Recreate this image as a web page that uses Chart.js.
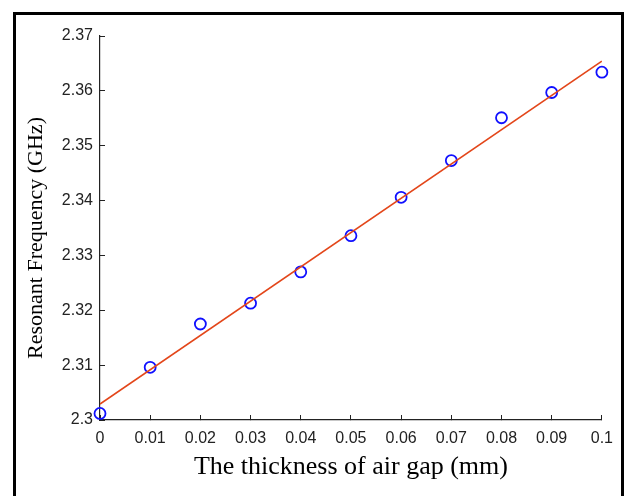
<!DOCTYPE html>
<html>
<head>
<meta charset="utf-8">
<script src="https://cdn.jsdelivr.net/npm/chart.js@4/dist/chart.umd.min.js"></script>
<style>
  html, body { margin: 0; padding: 0; background: #fff; }
  #wrap { position: relative; width: 627px; height: 496px; overflow: hidden; }
  #frame {
    position: absolute; left: 13px; top: 12px; width: 611px; height: 600px;
    box-sizing: border-box; border: 3px solid #000; border-bottom: none;
  }
  #c { position: absolute; left: 0; top: 0; }
</style>
</head>
<body>
<div id="wrap">
  <div id="frame"></div>
  <canvas id="c" width="627" height="496"></canvas>
</div>
<script>
// Air-gap thickness (mm) and measured resonant frequency (GHz)
const thickness = [0, 0.01, 0.02, 0.03, 0.04, 0.05, 0.06, 0.07, 0.08, 0.09, 0.1];
const measuredFreq = [2.3012, 2.3096, 2.3175, 2.3213, 2.3270, 2.3336, 2.3406, 2.3473, 2.3551, 2.3597, 2.3634];

// Linear fit through the measurements, given by its end points
const fitThickness = [0, 0.1];
const fitFreq = [2.3029, 2.3654];

// Axis ticks
const xTickValues = [0, 0.01, 0.02, 0.03, 0.04, 0.05, 0.06, 0.07, 0.08, 0.09, 0.1];
const xTickLabels = ['0', '0.01', '0.02', '0.03', '0.04', '0.05', '0.06', '0.07', '0.08', '0.09', '0.1'];
const yTickValues = [2.3, 2.31, 2.32, 2.33, 2.34, 2.35, 2.36, 2.37];
const yTickLabels = ['2.3', '2.31', '2.32', '2.33', '2.34', '2.35', '2.36', '2.37'];

const yAxisTitle = 'Resonant Frequency (GHz)';
const xAxisTitle = 'The thickness of air gap (mm)';

const toPoints = (xs, ys) => xs.map((x, i) => ({ x: x, y: ys[i] }));

const axisColor = '#222';
const tickFont = { family: '"Liberation Sans", Arial, sans-serif', size: 16 };
const serif = '"Liberation Serif", "Times New Roman", serif';

// Vertical axis title, set a little below the middle of the axis
const yTitlePlugin = {
  id: 'yTitle',
  afterDraw(chart) {
    const ctx = chart.ctx;
    ctx.save();
    ctx.translate(36, 238);
    ctx.rotate(-Math.PI / 2);
    ctx.font = '22px ' + serif;
    ctx.fillStyle = '#000';
    ctx.textAlign = 'center';
    ctx.textBaseline = 'middle';
    ctx.fillText(yAxisTitle, 0, 0);
    ctx.restore();
  }
};

new Chart(document.getElementById('c'), {
  type: 'scatter',
  data: {
    datasets: [
      {
        label: 'Fit',
        data: toPoints(fitThickness, fitFreq),
        showLine: true,
        borderColor: '#e3461a',
        borderWidth: 1.6,
        pointRadius: 0,
        fill: false
      },
      {
        label: 'Measured',
        data: toPoints(thickness, measuredFreq),
        showLine: false,
        pointStyle: 'circle',
        pointRadius: 5.5,
        pointBorderWidth: 1.8,
        pointBorderColor: '#1010ff',
        pointBackgroundColor: 'rgba(0,0,0,0)',
        clip: false
      }
    ]
  },
  plugins: [yTitlePlugin],
  options: {
    responsive: false,
    animation: false,
    devicePixelRatio: 1,
    layout: { padding: { left: 0, top: 36, right: 22, bottom: 0 } },
    plugins: { legend: { display: false }, tooltip: { enabled: false } },
    scales: {
      x: {
        type: 'linear',
        position: 'bottom',
        min: 0, max: 0.1,
        afterBuildTicks: s => { s.ticks = xTickValues.map(v => ({ value: v })); },
        afterFit: s => { s.height = 76; },
        border: { display: true, color: axisColor, width: 1.2 },
        grid: { drawOnChartArea: false, drawTicks: true, tickLength: -5, tickColor: axisColor, tickWidth: 1 },
        ticks: {
          color: axisColor, font: tickFont, padding: 14, maxRotation: 0, autoSkip: false,
          callback: (v, i) => xTickLabels[i]
        },
        title: {
          display: true, text: xAxisTitle, color: '#000',
          font: { family: serif, size: 26 }, padding: { top: 0, bottom: 13 }
        }
      },
      y: {
        type: 'linear',
        position: 'left',
        min: 2.3, max: 2.37,
        afterBuildTicks: s => { s.ticks = yTickValues.map(v => ({ value: v })); },
        afterFit: s => { s.width = 100; },
        border: { display: true, color: axisColor, width: 1.2 },
        grid: { drawOnChartArea: false, drawTicks: true, tickLength: -5, tickColor: axisColor, tickWidth: 1 },
        ticks: {
          color: axisColor, font: tickFont, padding: 12, autoSkip: false,
          callback: (v, i) => yTickLabels[i]
        },
        title: { display: false }
      }
    }
  }
});
</script>
</body>
</html>
